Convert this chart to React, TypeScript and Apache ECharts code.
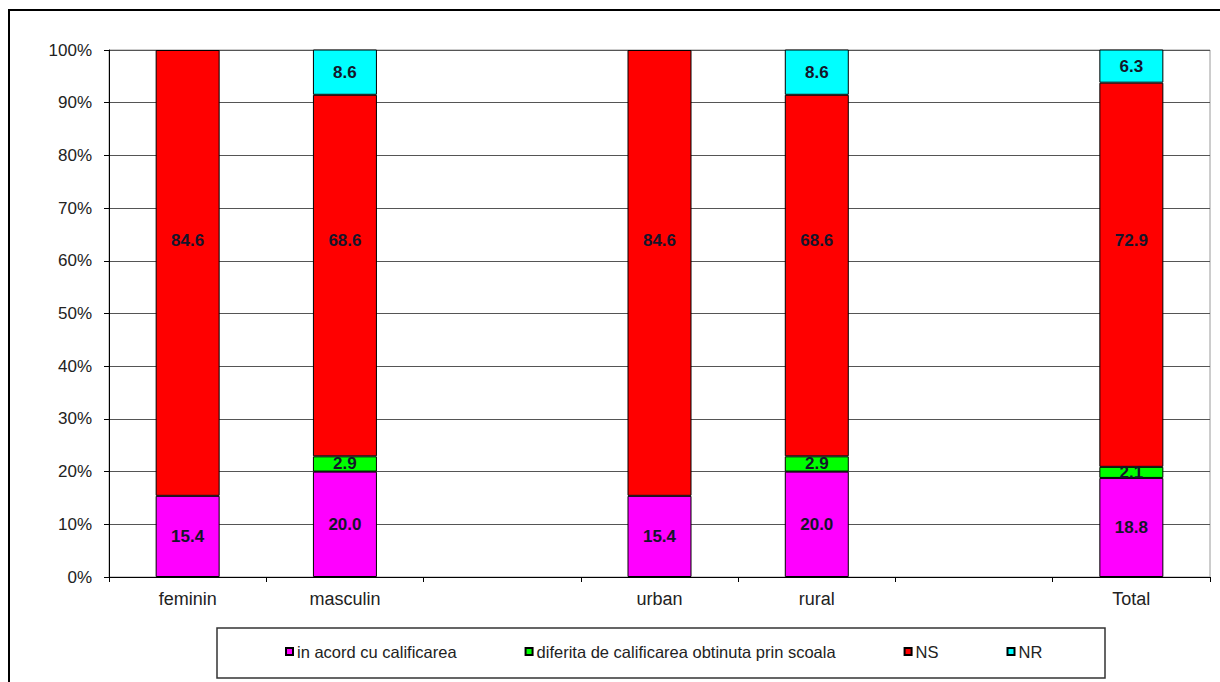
import React, { useEffect, useRef } from "react";
import * as echarts from "echarts";

const categories = ["feminin", "masculin", "", "urban", "rural", "", "Total"];
const seriesNames = [
  "in acord cu calificarea",
  "diferita de calificarea obtinuta prin scoala",
  "NS",
  "NR",
];
const inAcord = [15.4, 20.0, null, 15.4, 20.0, null, 18.8];
const diferita = [null, 2.9, null, null, 2.9, null, 2.1];
const nsValues = [84.6, 68.6, null, 84.6, 68.6, null, 72.9];
const nrValues = [null, 8.6, null, null, 8.6, null, 6.3];
const colors = ["#FF00FF", "#00FF00", "#FF0000", "#00FFFF"];
const yTicks = [0, 10, 20, 30, 40, 50, 60, 70, 80, 90, 100];

const FONT = "'Liberation Sans', Arial, sans-serif";
const GRID_TOP = 50;
const GRID_BOTTOM_Y = 577;
const PLOT_H = GRID_BOTTOM_Y - GRID_TOP;
const NS_LABEL_LEVEL = 63.8; // percent level where NS labels sit

export default function App() {
  const ref = useRef<HTMLDivElement>(null);
  useEffect(() => {
    if (!ref.current) return;
    const chart = echarts.init(ref.current, null, { renderer: "svg" });
    const labelBase = {
      show: true,
      position: "inside",
      fontFamily: FONT,
      fontWeight: "bold",
      fontSize: 17,
      color: "#15152a",
      formatter: (p: any) => (p.value == null ? "" : Number(p.value).toFixed(1)),
    };
    const mk = (name: string, data: any[], color: string) => ({
      name,
      type: "bar",
      stack: "total",
      barWidth: 64,
      data,
      itemStyle: { color, borderColor: "#000", borderWidth: 1 },
      label: labelBase,
    });
    const nsData = nsValues.map((v, i) => {
      if (v == null) return null;
      const base = (inAcord[i] || 0) + (diferita[i] || 0);
      const center = base + v / 2;
      const off = ((center - NS_LABEL_LEVEL) / 100) * PLOT_H;
      return { value: v, label: { offset: [0, off] } };
    });
    const series = [
      mk(seriesNames[0], inAcord, colors[0]),
      mk(seriesNames[1], diferita, colors[1]),
      mk(seriesNames[2], nsData, colors[2]),
      mk(seriesNames[3], nrValues, colors[3]),
    ];
    chart.setOption({
      animation: false,
      backgroundColor: "#fff",
      textStyle: { fontFamily: FONT },
      grid: {
        left: 109,
        right: 10,
        top: GRID_TOP,
        bottom: 682 - GRID_BOTTOM_Y,
        show: true,
        borderColor: "#9a9a9a",
        borderWidth: 1,
        backgroundColor: "transparent",
      },
      legend: {
        data: seriesNames,
        left: 285,
        top: 643,
        padding: 0,
        itemGap: 68,
        itemWidth: 7,
        itemHeight: 7,
        icon: "rect",
        textStyle: { fontFamily: FONT, fontSize: 16.5, color: "#222", padding: [0, 0, 0, -1] },
      },
      graphic: [
        {
          type: "rect",
          shape: { x: 217, y: 628, width: 888, height: 50 },
          style: { fill: "none", stroke: "#333", lineWidth: 1.5 },
          silent: true,
        },
        {
          type: "rect",
          shape: { x: 9, y: 10, width: 1400, height: 900 },
          style: { fill: "none", stroke: "#000", lineWidth: 2 },
          silent: true,
        },
      ],
      xAxis: {
        type: "category",
        data: categories,
        boundaryGap: true,
        axisLine: { show: true, lineStyle: { color: "#000", width: 1 } },
        axisTick: { show: true, interval: 0, length: 5, lineStyle: { color: "#000" } },
        axisLabel: { interval: 0, fontFamily: FONT, fontSize: 18, color: "#222", margin: 13 },
      },
      yAxis: {
        type: "value",
        min: yTicks[0],
        max: yTicks[yTicks.length - 1],
        interval: 10,
        axisLine: { show: true, lineStyle: { color: "#000", width: 1 } },
        axisTick: { show: true, length: 5, lineStyle: { color: "#000" } },
        axisLabel: { formatter: "{value}%", fontFamily: FONT, fontSize: 17, color: "#222", margin: 17 },
        splitLine: { show: true, lineStyle: { color: "#555", width: 1 } },
      },
      series,
    });
    return () => chart.dispose();
  }, []);
  return (
    <div
      ref={ref}
      style={{ position: "absolute", left: 0, top: 0, width: 1220, height: 682 }}
    />
  );
}
